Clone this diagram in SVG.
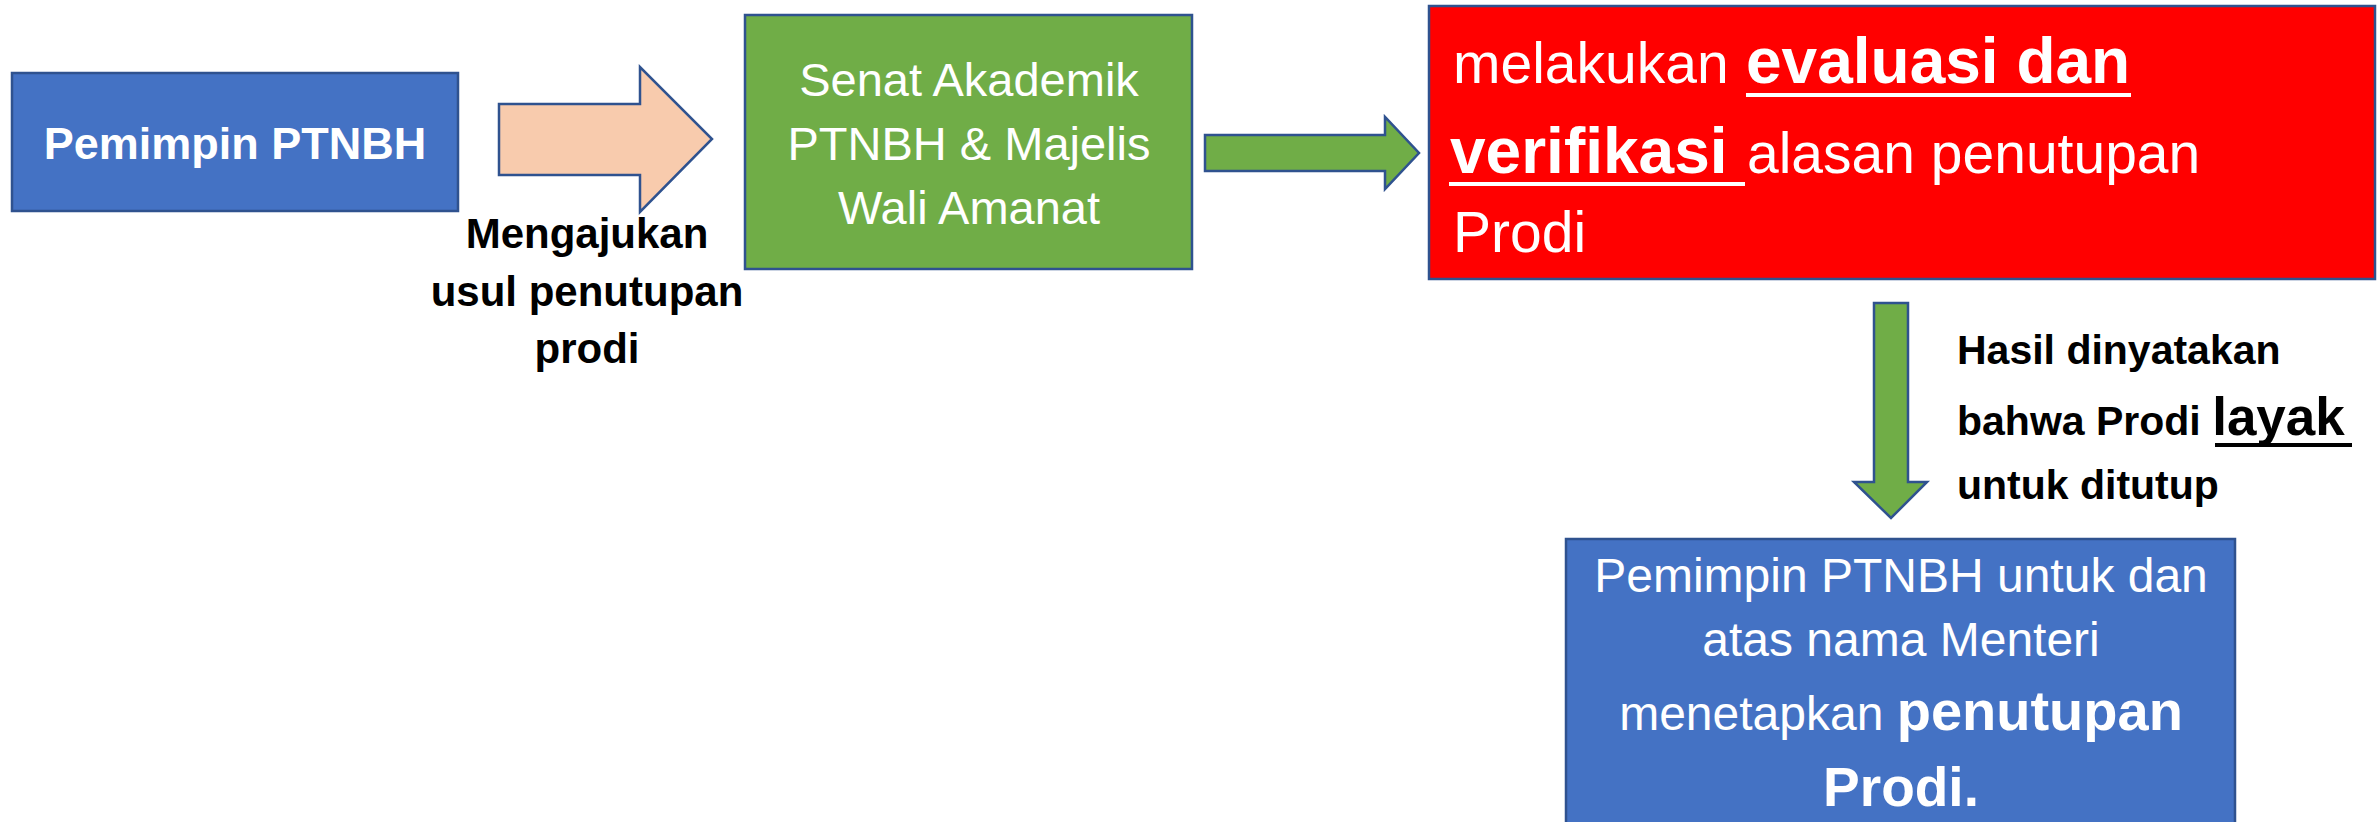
<svg xmlns="http://www.w3.org/2000/svg" width="2379" height="822" viewBox="0 0 2379 822">
<style>
text{font-family:"Liberation Sans",Arial,sans-serif}
.w{fill:#fff}
.k{fill:#000}
.b{font-weight:bold}
.bd{stroke:#2F528F;stroke-width:2.5}
</style>
<rect width="2379" height="822" fill="#fff"/>
<g id="connectors">
<polygon class="bd" fill="#F8CBAD" points="499,104 640,104 640,67 712,139 640,212 640,175 499,175"/>
<polygon class="bd" fill="#70AD47" points="1205,135 1385,135 1385,117 1419,153 1385,189 1385,171 1205,171"/>
<polygon class="bd" fill="#70AD47" points="1874,303 1908,303 1908,482 1927,482 1891,518 1854,482 1874,482"/>
<text class="k b" font-size="42" text-anchor="middle"><tspan x="587" y="248">Mengajukan</tspan><tspan x="587" y="306">usul penutupan</tspan><tspan x="587" y="363">prodi</tspan></text>
<text class="k b" font-size="41"><tspan x="1957" y="364">Hasil dinyatakan</tspan><tspan x="1957" y="435">bahwa Prodi <tspan font-size="53">layak</tspan></tspan><tspan x="1957" y="499">untuk ditutup</tspan></text>
<rect x="2215" y="443" width="137" height="4" fill="#000"/>
</g>
<g id="node-pemimpin">
<rect class="bd" x="12" y="73" width="446" height="138" fill="#4472C4"/>
<text class="w b" font-size="45" x="235" y="159" text-anchor="middle">Pemimpin PTNBH</text>
</g>
<g id="node-senat">
<rect class="bd" x="745" y="15" width="447" height="254" fill="#70AD47"/>
<text class="w" font-size="47" text-anchor="middle"><tspan x="969" y="96">Senat Akademik</tspan><tspan x="969" y="160">PTNBH &amp; Majelis</tspan><tspan x="969" y="224">Wali Amanat</tspan></text>
</g>
<g id="node-evaluasi">
<rect class="bd" x="1429" y="6" width="946" height="273" fill="#FF0000"/>
<text class="w" font-size="57"><tspan x="1453" y="83">melakukan</tspan><tspan class="b" x="1746" y="83" font-size="64">evaluasi dan</tspan></text>
<text class="w" font-size="57"><tspan class="b" x="1450" y="173" font-size="64">verifikasi</tspan><tspan x="1747" y="173">alasan penutupan</tspan></text>
<text class="w" font-size="57" x="1453" y="252">Prodi</text>
<rect x="1746" y="93" width="385" height="4" fill="#fff"/>
<rect x="1449" y="182" width="296" height="4" fill="#fff"/>
</g>
<g id="node-penutupan">
<rect class="bd" x="1566" y="539" width="669" height="290" fill="#4472C4"/>
<text class="w" font-size="48" text-anchor="middle"><tspan x="1901" y="592">Pemimpin PTNBH untuk dan</tspan><tspan x="1901" y="656">atas nama Menteri</tspan><tspan x="1901" y="730">menetapkan <tspan class="b" font-size="56">penutupan</tspan></tspan><tspan class="b" x="1901" y="806" font-size="55">Prodi.</tspan></text>
</g>
</svg>
